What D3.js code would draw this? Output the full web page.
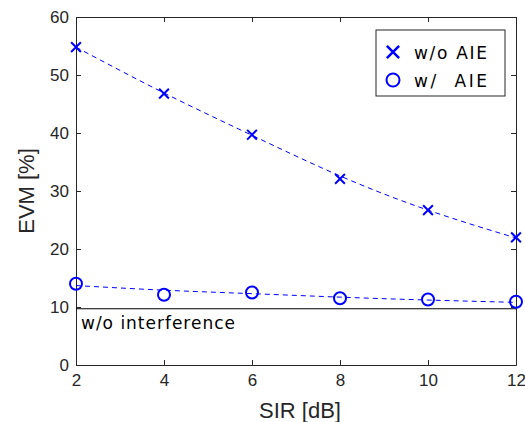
<!DOCTYPE html>
<html lang="en">
<head>
<meta charset="UTF-8">
<title>EVM vs SIR</title>
<script src="https://d3js.org/d3.v7.min.js"></script>
<style>
  body { margin: 0; background: #fff; }
  svg text { font-family: "Liberation Sans", Arial, sans-serif; fill: #262626; }
  .tick text { font-size: 17px; }
  .tick line { stroke: #262626; }
  .domain { stroke: #262626; }
  .jp { font-family: "DejaVu Sans", sans-serif; }
</style>
</head>
<body>
<div id="chart"></div>
<script>
// values
const sir = [2, 4, 6, 8, 10, 12];
const evmNoAie = [54.8, 46.8, 39.7, 32.1, 26.7, 22.0];
const evmAie = [14.0, 12.1, 12.5, 11.5, 11.3, 10.9];
// dashed fitted curves
const fitNoAie = [54.8, 46.9, 39.6, 32.6, 26.7, 21.9];
const fitAie = [13.7, 12.9, 12.3, 11.7, 11.2, 10.8];
const noInterference = 9.7;
const xTicks = [2, 4, 6, 8, 10, 12];
const yTicks = [0, 10, 20, 30, 40, 50, 60];

const W = 525, H = 422;
const margin = { top: 17, right: 9, bottom: 57, left: 76 };
const width = W - margin.left - margin.right;
const height = H - margin.top - margin.bottom;

const svg = d3.select("#chart").append("svg")
  .attr("width", W).attr("height", H);
const g = svg.append("g").attr("transform", `translate(${margin.left},${margin.top})`);

const x = d3.scaleLinear().domain([2, 12]).range([0, width]);
const y = d3.scaleLinear().domain([0, 60]).range([height, 0]);

// box with inward ticks (matlab style)
g.append("g").attr("transform", `translate(0,${height})`)
  .call(d3.axisBottom(x).tickValues(xTicks).tickSize(-5).tickPadding(9).tickSizeOuter(0));
g.append("g")
  .call(d3.axisTop(x).tickValues(xTicks).tickSize(-5).tickFormat("").tickSizeOuter(0));
g.append("g")
  .call(d3.axisLeft(y).tickValues(yTicks).tickSize(-5).tickPadding(7).tickSizeOuter(0));
g.append("g").attr("transform", `translate(${width},0)`)
  .call(d3.axisRight(y).tickValues(yTicks).tickSize(-5).tickFormat("").tickSizeOuter(0));

// reference line without interference
g.append("line")
  .attr("x1", 0).attr("x2", width)
  .attr("y1", y(noInterference)).attr("y2", y(noInterference))
  .attr("stroke", "#000").attr("stroke-width", 1.2);
g.append("text").attr("class", "jp")
  .attr("x", 5).attr("y", y(noInterference) + 20)
  .attr("textLength", 154).attr("lengthAdjust", "spacing")
  .style("font-size", "17px").style("fill", "#000")
  .text("w/o interference");

const blue = "#0000ff";
const line = d3.line().x((d, i) => x(sir[i])).y(d => y(d)).curve(d3.curveNatural);

[fitNoAie, fitAie].forEach(fit => {
  g.append("path").datum(fit)
    .attr("d", line)
    .attr("fill", "none").attr("stroke", blue)
    .attr("stroke-width", 1).attr("stroke-dasharray", "5,4");
});

// cross markers
const cross = d3.symbol().type(d3.symbolX).size(64);
g.selectAll(".cross").data(evmNoAie).enter().append("path")
  .attr("class", "cross")
  .attr("transform", (d, i) => `translate(${x(sir[i])},${y(d)})`)
  .attr("d", cross)
  .attr("fill", "none").attr("stroke", blue).attr("stroke-width", 2);

// circle markers
g.selectAll(".circ").data(evmAie).enter().append("circle")
  .attr("class", "circ")
  .attr("cx", (d, i) => x(sir[i])).attr("cy", d => y(d)).attr("r", 6)
  .attr("fill", "none").attr("stroke", blue).attr("stroke-width", 2);

// axis labels
svg.append("text")
  .attr("x", margin.left + width / 2 + 4).attr("y", 418)
  .attr("text-anchor", "middle").style("font-size", "22px")
  .text("SIR [dB]");
svg.append("text")
  .attr("transform", `translate(34,${margin.top + height / 2}) rotate(-90)`)
  .attr("text-anchor", "middle").style("font-size", "22px")
  .text("EVM [%]");

// legend
const leg = svg.append("g").attr("transform", "translate(376,30)");
leg.append("rect").attr("width", 129).attr("height", 66)
  .attr("fill", "#fff").attr("stroke", "#262626").attr("stroke-width", 1);
leg.append("path").attr("d", d3.symbol().type(d3.symbolX).size(100))
  .attr("transform", "translate(17,22)")
  .attr("fill", "none").attr("stroke", blue).attr("stroke-width", 2.5);
leg.append("circle").attr("cx", 17).attr("cy", 50).attr("r", 6.5)
  .attr("fill", "none").attr("stroke", blue).attr("stroke-width", 2);
leg.append("text").attr("class", "jp").attr("x", 38).attr("y", 29)
  .style("font-size", "17px").style("fill", "#000")
  .attr("textLength", 73).attr("lengthAdjust", "spacing")
  .text("w/o AIE");
leg.append("text").attr("class", "jp").attr("x", 38).attr("y", 57)
  .style("font-size", "17px").style("fill", "#000")
  .attr("textLength", 73).attr("lengthAdjust", "spacing")
  .style("white-space", "pre")
  .text("w/  AIE");
</script>
</body>
</html>
